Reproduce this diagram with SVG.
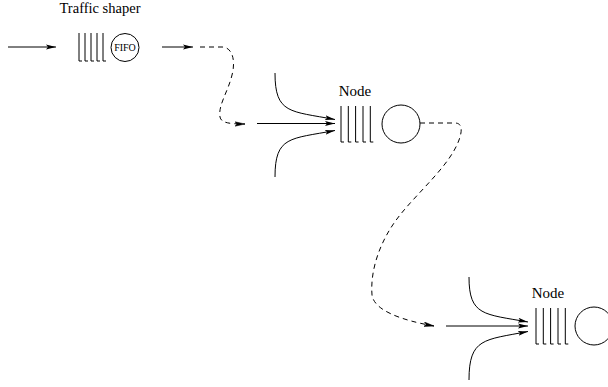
<svg xmlns="http://www.w3.org/2000/svg" width="608" height="387" viewBox="0 0 608 387">
<defs>
<style>
.ln{fill:none;stroke:#000;stroke-width:1}
.dash{fill:none;stroke:#000;stroke-width:1;stroke-dasharray:5 4}
.q{fill:none;stroke:#000;stroke-width:1}
.c{fill:#fff;stroke:#000;stroke-width:1}
.t{font-family:"Liberation Serif","Times New Roman",serif;fill:#000}
</style>
<marker id="ah" viewBox="0 0 10 6" refX="10" refY="3" markerWidth="10" markerHeight="6" markerUnits="userSpaceOnUse" orient="auto">
<path d="M0,0.6 L10,3 L0,5.4 L2,3 Z" fill="#000"/>
</marker>
<marker id="ahd" viewBox="0 0 10 6" refX="10" refY="3" markerWidth="10" markerHeight="6" markerUnits="userSpaceOnUse" orient="auto">
<path d="M0,0.8 L10,3 L0,5.2 L2,3 Z" fill="#000" stroke="#000" stroke-width="0.5"/>
</marker>
</defs>

<g id="traffic-shaper">
<text class="t" x="100" y="13" font-size="14.5" text-anchor="middle">Traffic shaper</text>
<path class="q" d="M79,33 V61 H82 M85,33 V61 H88 M91,33 V61 H94 M97,33 V61 H100 M103,33 V61 H106"/>
<circle class="c" cx="125" cy="47.5" r="14"/>
<text class="t" x="125" y="51" font-size="10" text-anchor="middle">FIFO</text>
</g>

<g id="node1">
<text class="t" x="355" y="96" font-size="15" text-anchor="middle">Node</text>
<path class="q" d="M341,106 V142 H344 M348.3,106 V142 H351.3 M355.6,106 V142 H358.6 M363,106 V142 H366 M370.3,106 V142 H373.3"/>
<circle class="c" cx="401" cy="124" r="19"/>
</g>

<g id="node2">
<text class="t" x="548" y="298" font-size="15" text-anchor="middle">Node</text>
<path class="q" d="M536,308 V344 H539 M543.3,308 V344 H546.3 M550.6,308 V344 H553.6 M558,308 V344 H561 M565.3,308 V344 H568.3"/>
<circle class="c" cx="594" cy="326" r="19"/>
</g>

<g id="connectors">
<path class="ln" d="M8,47 H56" marker-end="url(#ah)"/>
<path class="ln" d="M162,47 H193" marker-end="url(#ah)"/>
<path class="dash" d="M200,47 H222 C232,47 236,60 232,75 C228,92 218,105 220,117 C221,123 230,124 245,124" marker-end="url(#ahd)"/>
<path class="ln" d="M257,123.5 H335" marker-end="url(#ah)"/>
<path class="ln" d="M275,73 C275,114 290,111 335,119.5" marker-end="url(#ah)"/>
<path class="ln" d="M275,177 C275,136 290,139 335,130.5" marker-end="url(#ah)"/>
<path class="dash" d="M420,123 H455 C463,123 462,132 459,140 C450,165 420,190 400,215 C380,240 370,270 372,295 C374,310 400,320 434,326" marker-end="url(#ahd)"/>
<path class="ln" d="M446,326 H528" marker-end="url(#ah)"/>
<path class="ln" d="M469,277 C469,316 484,314 528,322" marker-end="url(#ah)"/>
<path class="ln" d="M469,380 C469,338 484,340 528,331.5" marker-end="url(#ah)"/>
</g>
</svg>
